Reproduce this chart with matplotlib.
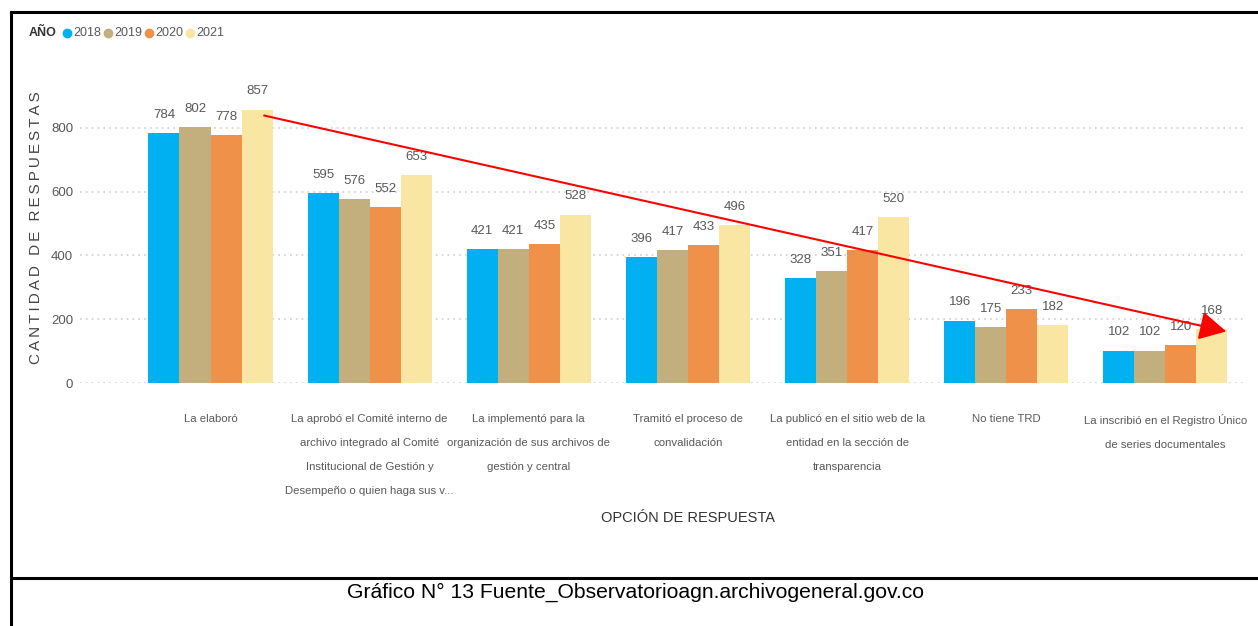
import matplotlib
matplotlib.use("Agg")
import matplotlib.pyplot as plt
from matplotlib.lines import Line2D
import numpy as np

categories = [
    "La elaboró",
    "La aprobó el Comité interno de\narchivo integrado al Comité\nInstitucional de Gestión y\nDesempeño o quien haga sus v...",
    "La implementó para la\norganización de sus archivos de\ngestión y central",
    "Tramitó el proceso de\nconvalidación",
    "La publicó en el sitio web de la\nentidad en la sección de\ntransparencia",
    "No tiene TRD",
    "La inscribió en el Registro Único\nde series documentales",
]
years = ["2018", "2019", "2020", "2021"]
v2018 = [784, 595, 421, 396, 328, 196, 102]
v2019 = [802, 576, 421, 417, 351, 175, 102]
v2020 = [778, 552, 435, 433, 417, 233, 120]
v2021 = [857, 653, 528, 496, 520, 182, 168]
series = [v2018, v2019, v2020, v2021]
colors = ["#01B0F1", "#C3AE7D", "#F09149", "#F8E6A2"]
yticks = [0, 200, 400, 600, 800]

FONT = "Liberation Sans"
GREY = "#595959"

fig = plt.figure(figsize=(12.58, 6.26), dpi=100)
ax = fig.add_axes([0.0636, 0.388, 0.926, 0.459])

x = np.arange(len(categories))
w = 0.195
for i, (vals, c) in enumerate(zip(series, colors)):
    pos = x + (i - 1.5) * w
    ax.bar(pos, vals, width=w, color=c, zorder=3)
    for px, v in zip(pos, vals):
        ax.text(px, v + 38, str(v), ha="center", va="bottom", fontsize=9.5,
                color=GREY, family=FONT)

ax.set_xlim(-0.82, 6.5)
ax.set_ylim(0, 900)
ax.set_yticks(yticks)
ax.set_yticklabels([str(t) for t in yticks], family=FONT, fontsize=9.5, color=GREY)
ax.set_xticks(x)
ax.set_xticklabels(categories, family=FONT, fontsize=8.2, color=GREY,
                   linespacing=2.75, va="top")
ax.tick_params(axis="both", length=0)
ax.tick_params(axis="x", pad=22)
ax.tick_params(axis="y", pad=5)
ax.grid(axis="y", linestyle=(0, (1, 2.5)), color="#CFCFCF", linewidth=1.2, zorder=0)
for s in ax.spines.values():
    s.set_visible(False)

fig.text(0.547, 0.1725, "OPCIÓN DE RESPUESTA", family=FONT, fontsize=10.5,
         color="#333333", ha="center", va="center")
ylab = "\u2009".join("CANTIDAD DE RESPUESTAS")
fig.text(0.0286, 0.636, ylab, rotation=90, ha="center", va="center",
         fontsize=11, color="#444444", family=FONT)

# trend arrow
ax.annotate("", xy=(6.40, 160), xytext=(0.32, 840),
            arrowprops=dict(arrowstyle="-|>,head_length=0.75,head_width=0.4",
                            color="#FF0000", lw=1.5, mutation_scale=22), zorder=5)

# legend
leg_y = 1 - 33 / 626
fig.text(29 / 1258, leg_y, "AÑO", fontsize=9, fontweight="bold", color="#333333",
         family=FONT, va="center")
for i, (yr, c) in enumerate(zip(years, colors)):
    fig.add_artist(Line2D([(67 + 41 * i) / 1258], [leg_y], marker="o", markersize=6,
                          color=c, linestyle=""))
    fig.text((73 + 41 * i) / 1258, leg_y, yr, fontsize=9, color=GREY, family=FONT,
             va="center")

# frame lines
fig.add_artist(Line2D([0.0087, 0.0087], [0, 0.981], color="black", lw=2.2))
fig.add_artist(Line2D([0.0087, 1.0], [0.981, 0.981], color="black", lw=2.2))
fig.add_artist(Line2D([0.0087, 1.0], [0.077, 0.077], color="black", lw=2.2))

fig.text(0.505, 0.054, "Gráfico N° 13 Fuente_Observatorioagn.archivogeneral.gov.co",
         ha="center", va="center", fontsize=15.2, family=FONT, color="black")

fig.savefig("out.png", dpi=100)
